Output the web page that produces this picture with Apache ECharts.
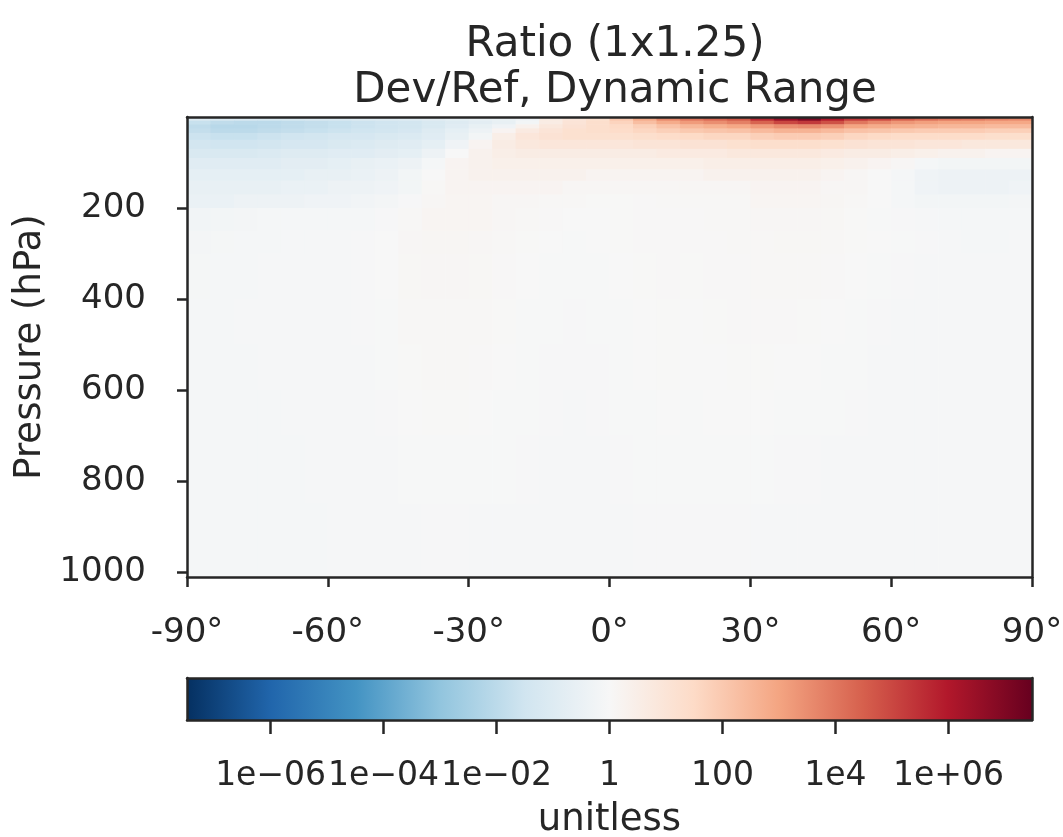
<!DOCTYPE html>
<html><head><meta charset="utf-8">
<script src="https://cdn.jsdelivr.net/npm/echarts@6/dist/echarts.min.js"></script>
<style>html,body{margin:0;padding:0;background:#fff}#chart{width:1063px;height:837px}</style>
</head><body><div id="chart"></div>
<script>
// ---- data ----
const latEdges = [-90,-85,-80,-75,-70,-65,-60,-55,-50,-45,-40,-35,-30,-25,-20,-15,-10,-5,0,5,10,15,20,25,30,35,40,45,50,55,60,65,70,75,80,85,90];
const pressureEdges = [0,8,16,25,35,50,70,90,115,140,170,200,250,300,400,500,600,700,850,1011];
// log10(Dev/Ref), one row per pressure layer (top to bottom), one value per latitude band
const log10Ratio = [
 [-1.0,-1.1,-1.1,-1.2,-1.2,-1.1,-1.1,-1.0,-1.0,-0.9,-0.8,-0.7,-0.6,-0.5,-0.3,0.6,0.9,1.2,2.0,2.8,3.6,4.0,4.3,4.6,5.6,6.5,7.0,6.0,5.3,5.0,4.5,4.2,4.0,3.9,3.7,3.6],
 [-1.7,-1.9,-2.0,-2.0,-1.9,-1.8,-1.7,-1.6,-1.5,-1.4,-1.2,-1.0,-0.8,-0.6,-0.2,0.6,1.0,1.3,1.7,2.3,2.8,3.2,3.5,3.8,4.4,5.0,5.3,4.8,4.0,3.6,3.3,3.1,3.0,3.0,2.9,2.9],
 [-1.9,-2.1,-2.1,-2.0,-1.9,-1.8,-1.7,-1.6,-1.5,-1.4,-1.2,-0.9,-0.6,-0.3,0.3,0.8,1.1,1.3,1.5,1.8,2.2,2.5,2.7,2.9,3.2,3.5,3.6,3.4,3.0,2.8,2.7,2.6,2.5,2.5,2.4,2.4],
 [-1.8,-2.0,-2.0,-1.9,-1.8,-1.7,-1.6,-1.5,-1.4,-1.3,-1.0,-0.7,-0.4,0.2,0.7,1.0,1.2,1.3,1.4,1.6,1.8,2.0,2.1,2.2,2.4,2.6,2.6,2.4,2.2,2.1,2.0,1.9,1.9,1.9,1.8,1.8],
 [-1.6,-1.7,-1.7,-1.6,-1.5,-1.4,-1.3,-1.3,-1.2,-1.1,-0.9,-0.6,-0.2,0.5,0.9,1.1,1.2,1.2,1.2,1.3,1.4,1.5,1.6,1.6,1.8,1.9,1.9,1.8,1.6,1.5,1.4,1.4,1.4,1.4,1.3,1.3],
 [-1.4,-1.5,-1.5,-1.4,-1.3,-1.3,-1.2,-1.1,-1.0,-0.9,-0.7,-0.3,0.2,0.6,0.8,0.9,0.9,0.9,0.9,1.0,1.0,1.1,1.1,1.2,1.3,1.3,1.3,1.2,1.1,1.0,1.0,0.9,0.9,0.8,0.8,0.8],
 [-1.2,-1.2,-1.2,-1.1,-1.0,-1.0,-0.9,-0.9,-0.8,-0.7,-0.4,0.0,0.3,0.5,0.6,0.6,0.6,0.6,0.6,0.6,0.7,0.7,0.7,0.8,0.8,0.8,0.8,0.7,0.6,0.6,0.5,0.4,0.3,0.3,0.2,0.2],
 [-0.9,-0.9,-0.9,-0.9,-0.8,-0.8,-0.7,-0.6,-0.5,-0.4,-0.1,0.2,0.3,0.4,0.4,0.4,0.4,0.4,0.4,0.4,0.4,0.4,0.5,0.5,0.5,0.5,0.5,0.4,0.3,0.2,0.1,-0.1,-0.2,-0.2,-0.2,-0.2],
 [-0.7,-0.7,-0.7,-0.7,-0.7,-0.6,-0.6,-0.5,-0.4,-0.2,0.0,0.2,0.3,0.3,0.3,0.3,0.3,0.2,0.2,0.2,0.2,0.2,0.3,0.3,0.3,0.3,0.3,0.2,0.1,0.0,-0.1,-0.3,-0.4,-0.4,-0.4,-0.4],
 [-0.6,-0.6,-0.6,-0.6,-0.5,-0.5,-0.4,-0.4,-0.3,-0.2,0.05,0.2,0.2,0.2,0.2,0.2,0.1,0.1,0.1,0.1,0.1,0.1,0.1,0.1,0.2,0.2,0.2,0.1,0.1,0.0,-0.1,-0.3,-0.4,-0.4,-0.4,-0.3],
 [-0.5,-0.5,-0.4,-0.4,-0.4,-0.3,-0.3,-0.25,-0.15,-0.05,0.1,0.15,0.15,0.1,0.1,0.05,0.05,0.02,0.02,0.03,0.05,0.05,0.05,0.05,0.15,0.15,0.15,0.12,0.05,0.0,-0.1,-0.2,-0.2,-0.2,-0.2,-0.15],
 [-0.25,-0.2,-0.15,-0.1,-0.1,-0.1,-0.1,-0.1,-0.05,0.05,0.15,0.15,0.15,0.1,0.05,0.03,0.0,0.0,0.02,0.03,0.04,0.04,0.05,0.05,0.1,0.1,0.1,0.08,0.02,-0.02,-0.05,-0.08,-0.1,-0.1,-0.1,-0.1],
 [-0.15,-0.12,-0.1,-0.1,-0.08,-0.08,-0.06,-0.05,0.0,0.1,0.12,0.12,0.1,0.05,0.02,0.0,-0.02,0.0,0.02,0.03,0.04,0.03,0.04,0.05,0.06,0.08,0.08,0.06,0.02,0.0,-0.03,-0.05,-0.08,-0.1,-0.1,-0.08],
 [-0.12,-0.1,-0.1,-0.08,-0.08,-0.07,-0.06,-0.05,0.0,0.08,0.1,0.1,0.08,0.04,0.0,-0.02,-0.03,-0.02,0.0,0.02,0.03,0.02,0.03,0.04,0.05,0.05,0.05,0.04,0.0,-0.03,-0.05,-0.06,-0.08,-0.08,-0.08,-0.08],
 [-0.1,-0.1,-0.08,-0.08,-0.08,-0.07,-0.06,-0.05,-0.02,0.05,0.07,0.07,0.05,0.02,-0.02,-0.04,-0.05,-0.04,-0.02,0.0,0.02,0.0,0.02,0.03,0.03,0.03,0.02,0.0,-0.03,-0.05,-0.06,-0.07,-0.08,-0.08,-0.08,-0.08],
 [-0.1,-0.1,-0.1,-0.08,-0.08,-0.08,-0.06,-0.06,-0.04,0.02,0.05,0.05,0.03,0.0,-0.03,-0.05,-0.05,-0.05,-0.03,0.0,0.02,0.0,0.01,0.02,0.02,0.01,0.0,-0.02,-0.04,-0.06,-0.07,-0.07,-0.08,-0.08,-0.08,-0.08],
 [-0.1,-0.1,-0.1,-0.1,-0.08,-0.08,-0.07,-0.06,-0.05,0.0,0.02,0.02,0.0,-0.02,-0.04,-0.05,-0.06,-0.05,-0.04,-0.02,0.0,-0.02,0.0,0.0,0.0,-0.02,-0.03,-0.04,-0.05,-0.07,-0.08,-0.08,-0.08,-0.08,-0.08,-0.08],
 [-0.1,-0.1,-0.1,-0.1,-0.1,-0.08,-0.08,-0.07,-0.06,-0.03,-0.02,-0.02,-0.03,-0.04,-0.05,-0.06,-0.06,-0.06,-0.05,-0.04,-0.03,-0.04,-0.03,-0.03,-0.04,-0.05,-0.05,-0.06,-0.06,-0.07,-0.08,-0.08,-0.08,-0.08,-0.08,-0.08],
 [-0.1,-0.1,-0.1,-0.1,-0.1,-0.1,-0.09,-0.08,-0.08,-0.06,-0.05,-0.05,-0.06,-0.06,-0.07,-0.07,-0.07,-0.07,-0.06,-0.05,-0.05,-0.05,-0.05,-0.05,-0.06,-0.06,-0.06,-0.07,-0.07,-0.08,-0.08,-0.08,-0.08,-0.08,-0.08,-0.08]
];
const latTicks = [-90,-60,-30,0,30,60,90];
const pressureTicks = [200,400,600,800,1000];
const cbTickExps = [-6,-4,-2,0,2,4,6];
const cbTickLabels = ['1e\u221206','1e\u221204','1e\u221202','1','100','1e4','1e+06'];
const cbRange = [-7.48, 7.48];
const titleText = 'Ratio (1x1.25)\nDev/Ref, Dynamic Range';

// ---- styles ----
const INK = '#262626';
const FONT = 'DejaVu Sans';
const rdbuR = ['#053061','#2166ac','#4393c3','#92c5de','#d1e5f0','#f7f7f7','#fddbc7','#f4a582','#d6604d','#b2182b','#67001f'];

const cells = [];
for (let i = 0; i < log10Ratio.length; i++) {
  for (let j = 0; j < log10Ratio[i].length; j++) {
    cells.push([latEdges[j], latEdges[j+1], pressureEdges[i], pressureEdges[i+1], log10Ratio[i][j]]);
  }
}

const lineStyle = {color: INK, width: 2.5};
const frameAxis = (extra) => Object.assign({
  type: 'value', z: 5,
  axisLine: {show: true, onZero: false, lineStyle},
  axisTick: {show: false}, axisLabel: {show: false}, splitLine: {show: false}
}, extra);

const chart = echarts.init(document.getElementById('chart'), null, {renderer: 'canvas'});
chart.setOption({
  backgroundColor: '#ffffff',
  animation: false,
  textStyle: {fontFamily: FONT},
  title: {
    text: titleText, left: 610, top: 17, textAlign: 'center',
    textStyle: {fontFamily: FONT, fontSize: 42, fontWeight: 'normal', color: INK, lineHeight: 46}
  },
  grid: [
    {left: 187, right: 31, top: 117, bottom: 260, outerBoundsMode: 'none', containLabel: false},
    {left: 187, right: 31, top: 678, height: 42, outerBoundsMode: 'none', containLabel: false}
  ],
  xAxis: [
    {
      gridIndex: 0, type: 'value', min: -90, max: 90, interval: 30, position: 'bottom', z: 5,
      axisLine: {show: true, onZero: false, lineStyle},
      axisTick: {show: true, length: 10, lineStyle, customValues: latTicks},
      axisLabel: {fontFamily: FONT, fontSize: 34, color: INK, margin: 39, customValues: latTicks,
        formatter: v => String(v) + '\u00b0'},
      splitLine: {show: false}
    },
    frameAxis({gridIndex: 0, min: -90, max: 90, position: 'top'}),
    {
      gridIndex: 1, type: 'value', min: cbRange[0], max: cbRange[1], position: 'bottom', z: 5,
      axisLine: {show: true, onZero: false, lineStyle},
      axisTick: {show: true, length: 14, lineStyle, customValues: cbTickExps},
      axisLabel: {fontFamily: FONT, fontSize: 33, color: INK, margin: 40, customValues: cbTickExps,
        formatter: v => { const k = cbTickExps.indexOf(Math.round(v)); return k >= 0 ? cbTickLabels[k] : ''; }},
      splitLine: {show: false},
      name: 'unitless', nameLocation: 'middle', nameGap: 82,
      nameTextStyle: {fontFamily: FONT, fontSize: 37, color: INK}
    },
    frameAxis({gridIndex: 1, min: cbRange[0], max: cbRange[1], position: 'top'})
  ],
  yAxis: [
    {
      gridIndex: 0, type: 'value', inverse: true, min: 0, max: 1011, position: 'left', z: 5,
      axisLine: {show: true, onZero: false, lineStyle},
      axisTick: {show: true, length: 10, lineStyle, customValues: pressureTicks},
      axisLabel: {fontFamily: FONT, fontSize: 34, color: INK, margin: 41, customValues: pressureTicks,
        formatter: v => String(v)},
      splitLine: {show: false},
      name: 'Pressure (hPa)', nameLocation: 'middle', nameGap: 137,
      nameTextStyle: {fontFamily: FONT, fontSize: 37, color: INK}
    },
    frameAxis({gridIndex: 0, inverse: true, min: 0, max: 1011, position: 'right'}),
    frameAxis({gridIndex: 1, min: 0, max: 1, position: 'left'}),
    frameAxis({gridIndex: 1, min: 0, max: 1, position: 'right'})
  ],
  visualMap: {
    type: 'continuous', show: false, seriesIndex: 0, dimension: 4,
    min: cbRange[0], max: cbRange[1], inRange: {color: rdbuR}
  },
  series: [
    {
      type: 'custom', xAxisIndex: 0, yAxisIndex: 0, clip: true,
      dimensions: ['lat0','lat1','p0','p1','log10ratio'],
      encode: {x: [0, 1], y: [2, 3]},
      data: cells,
      renderItem: (params, api) => {
        const a = api.coord([api.value(0), api.value(2)]);
        const b = api.coord([api.value(1), api.value(3)]);
        return {
          type: 'rect',
          shape: {x: Math.min(a[0], b[0]), y: Math.min(a[1], b[1]),
                  width: Math.abs(b[0] - a[0]) + 0.6, height: Math.abs(b[1] - a[1]) + 0.6},
          style: {fill: api.visual('color')}
        };
      }
    },
    {
      type: 'custom', xAxisIndex: 2, yAxisIndex: 2, clip: true,
      data: [[cbRange[0], cbRange[1]]],
      encode: {x: [0, 1]},
      renderItem: (params, api) => {
        const a = api.coord([api.value(0), 0]);
        const b = api.coord([api.value(1), 1]);
        const stops = rdbuR.map((c, k) => ({offset: k / (rdbuR.length - 1), color: c}));
        return {
          type: 'rect',
          shape: {x: a[0], y: b[1], width: b[0] - a[0], height: a[1] - b[1]},
          style: {fill: new echarts.graphic.LinearGradient(0, 0, 1, 0, stops)}
        };
      }
    }
  ]
});
</script></body></html>
